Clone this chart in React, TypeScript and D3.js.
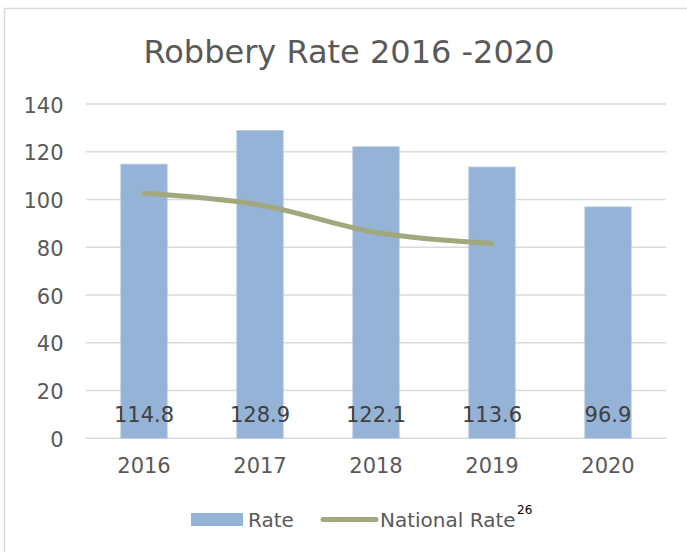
import React from "react";
import * as d3 from "d3";

const categories = ["2016", "2017", "2018", "2019", "2020"];
const rateValues = [114.8, 128.9, 122.1, 113.6, 96.9];
const nationalValues = [102.6, 97.7, 86.2, 81.6];
const yTicks = [0, 20, 40, 60, 80, 100, 120, 140];
const seriesNames = ["Rate", "National Rate"];
const titleText = "Robbery Rate 2016 -2020";
const footnote = "26";

const W = 687;
const H = 552;
const FONT = "'DejaVu Sans', sans-serif";
const TEXT = "#595959";
const GRID = "#D9D9D9";
const BAR = "#95B3D7";
const LINE = "#A0A87C";

export default function App() {
  const x = d3.scaleBand<string>().domain(categories).range([86, 666]).paddingInner(0.6).paddingOuter(0.3);
  const y = d3.scaleLinear().domain([0, 140]).range([438.3, 104]);
  const line = d3
    .line<number>()
    .x((_, i) => (x(categories[i]) as number) + x.bandwidth() / 2)
    .y((d) => y(d))
    .curve(d3.curveCatmullRom.alpha(0));

  return (
    <svg width={W} height={H} style={{ position: "absolute", left: 0, top: 0, background: "#fff" }}>
      <rect x={4.5} y={8.5} width={800} height={700} fill="#fff" stroke={GRID} strokeWidth={1.5} />
      <text x={349} y={62.7} textAnchor="middle" fontFamily={FONT} fontSize={32} fill={TEXT}>
        {titleText}
      </text>
      {yTicks.map((t) => (
        <g key={t}>
          <line x1={86} x2={666} y1={y(t)} y2={y(t)} stroke={GRID} strokeWidth={1.4} />
          <text x={63.5} y={y(t) + 8.5} textAnchor="end" fontFamily={FONT} fontSize={21} fill={TEXT}>
            {t}
          </text>
        </g>
      ))}
      {rateValues.map((v, i) => (
        <rect
          key={categories[i]}
          x={x(categories[i])}
          y={y(v)}
          width={x.bandwidth()}
          height={y(0) - y(v)}
          fill={BAR}
          stroke="#B4C9E2"
          strokeWidth={0.8}
        />
      ))}
      <path d={line(nationalValues) || ""} fill="none" stroke={LINE} strokeWidth={5} strokeLinecap="round" strokeLinejoin="round" />
      {rateValues.map((v, i) => (
        <text
          key={"l" + i}
          x={(x(categories[i]) as number) + x.bandwidth() / 2}
          y={y(0) - 16}
          textAnchor="middle"
          fontFamily={FONT}
          fontSize={21}
          fill="#404040"
        >
          {v.toFixed(1)}
        </text>
      ))}
      {categories.map((c) => (
        <text
          key={"c" + c}
          x={(x(c) as number) + x.bandwidth() / 2}
          y={y(0) + 35}
          textAnchor="middle"
          fontFamily={FONT}
          fontSize={21}
          fill={TEXT}
        >
          {c}
        </text>
      ))}
      <g>
        <rect x={191} y={513} width={52} height={13} fill={BAR} />
        <text x={248} y={526.7} fontFamily={FONT} fontSize={20} fill={TEXT}>
          {seriesNames[0]}
        </text>
        <line x1={323} x2={376} y1={519.5} y2={519.5} stroke={LINE} strokeWidth={5} strokeLinecap="round" />
        <text x={380} y={526.7} fontFamily={FONT} fontSize={20} fill={TEXT}>
          {seriesNames[1]}
        </text>
        <text x={517} y={514} fontFamily={FONT} fontSize={12} fill="#000">
          {footnote}
        </text>
      </g>
    </svg>
  );
}
